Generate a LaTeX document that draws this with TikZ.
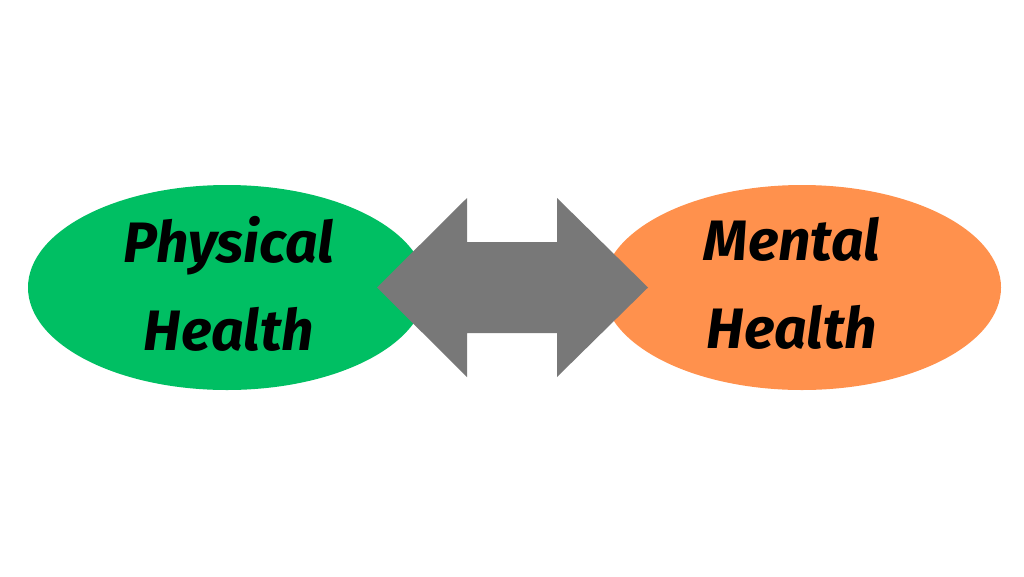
\documentclass[tikz,border=0pt]{standalone}
\usepackage{fontspec}
\setmainfont{Fira Sans}
\usetikzlibrary{shapes.geometric}
\definecolor{physgreen}{RGB}{0,191,99}
\definecolor{mentorange}{RGB}{255,145,77}
\definecolor{arrowgray}{RGB}{120,120,120}
\tikzset{
  blob/.style={ellipse, draw=none, minimum width=398pt, minimum height=205pt, inner sep=0pt},
  lbl/.style={font=\fontsize{57}{88}\selectfont\bfseries\itshape, align=center, text=black}
}
\begin{document}
\begin{tikzpicture}[x=1pt,y=-1pt]
\useasboundingbox (0,0) rectangle (1024,576);
\fill[white] (0,0) rectangle (1024,576);
\node[blob, fill=physgreen] (phys) at (227,287.5) {};
\node[blob, fill=mentorange] (ment) at (802,287.5) {};
\coordinate (ltip) at (377,287.5);
\coordinate (rtip) at (648,287.5);
\fill[arrowgray] (ltip) -- (467,198) -- (467,242) -- (557,242) -- (557,198) -- (rtip)
  -- (557,377) -- (557,333) -- (467,333) -- (467,377) -- cycle;
\node[lbl] (physt) at ([shift={(2,-4)}]phys.center) {Physical\\Health};
\node[lbl] (mentt) at ([shift={(-10,-4)}]ment.center) {Mental\\Health};
\end{tikzpicture}
\end{document}
